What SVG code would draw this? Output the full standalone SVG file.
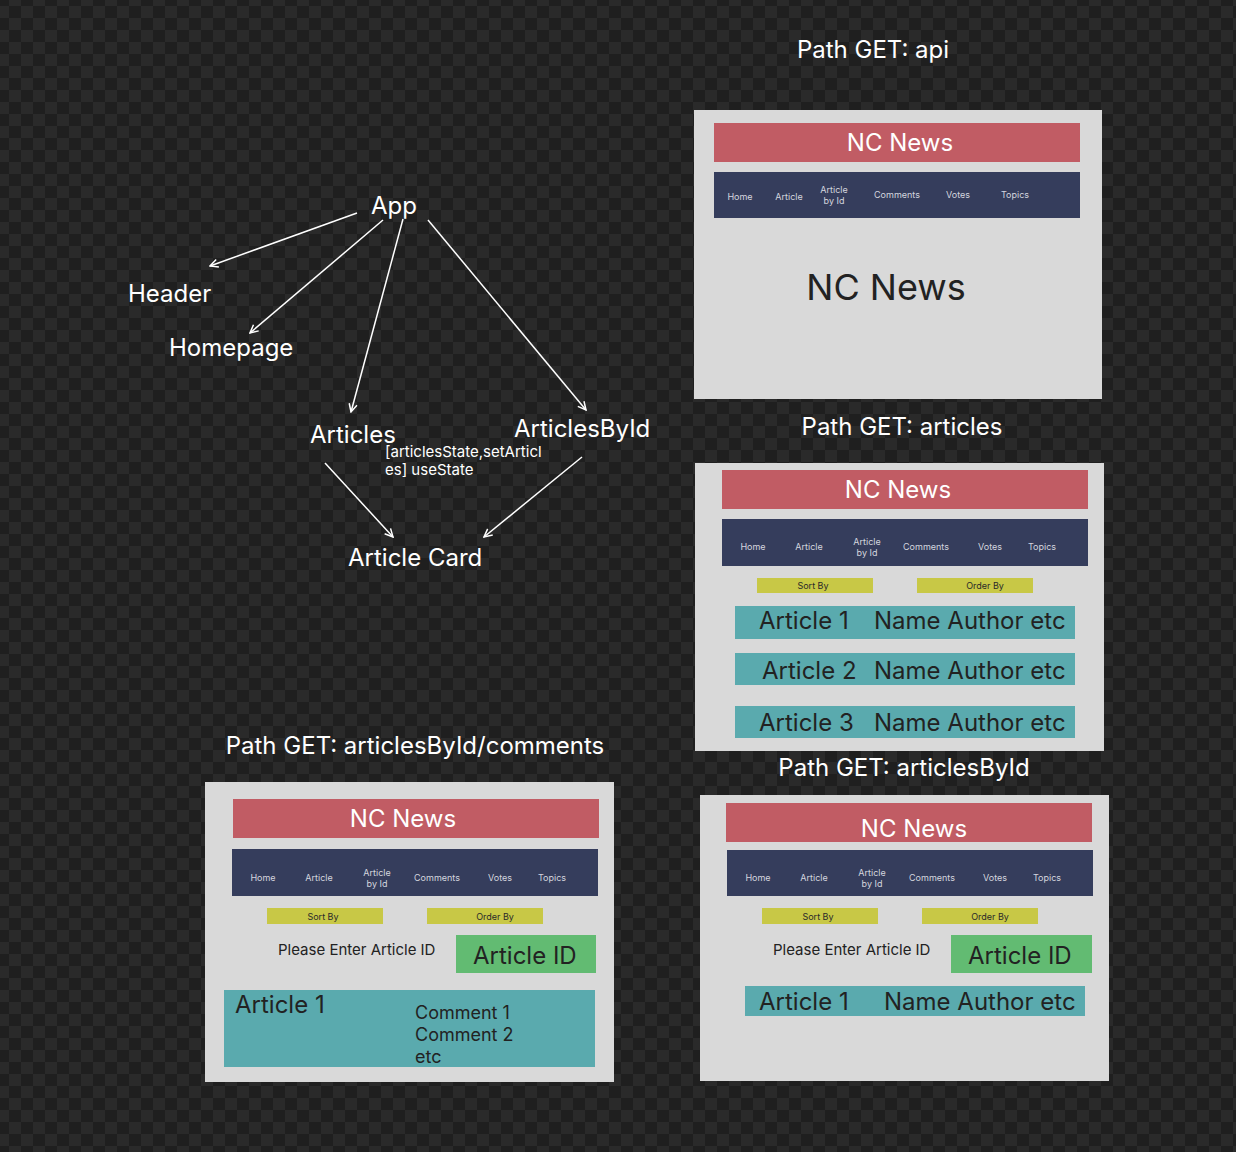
<svg xmlns="http://www.w3.org/2000/svg" width="1236" height="1152" viewBox="0 0 1236 1152">
<defs>
<pattern id="checker" x="9" y="6" width="24" height="24" patternUnits="userSpaceOnUse">
<rect width="24" height="24" fill="#1f1f1f"/>
<rect x="12" y="0" width="12" height="12" fill="#2a2a2a"/>
<rect x="0" y="12" width="12" height="12" fill="#2a2a2a"/>
</pattern>
<marker id="arr" viewBox="0 0 10 10" refX="9" refY="5" markerWidth="10" markerHeight="10" markerUnits="userSpaceOnUse" orient="auto">
<path d="M1,1 L9,5 L1,9" fill="none" stroke="#ffffff" stroke-width="1.5"/>
</marker>
</defs>
<style>
text{font-family:Inter,"Liberation Sans",sans-serif}
.title{font-size:24px;fill:#ffffff;text-anchor:middle}
.node{font-size:24px;fill:#ffffff}
.small{font-size:15px;fill:#ffffff}
.panel{fill:#d9d9d9}
.red{fill:#c15c64}
.nav{fill:#353d5c}
.navt{font-size:9px;fill:#d4d6df;text-anchor:middle}
.nc{font-size:24px;fill:#ffffff;text-anchor:middle}
.yel{fill:#c8c846}
.yelt{font-size:9px;fill:#2a2a2a;text-anchor:middle}
.teal{fill:#5aaaae}
.big{font-size:24px;fill:#222222}
.green{fill:#62bb72}
.please{font-size:15px;fill:#222222}
.cmt{font-size:18px;fill:#222222}
.conn{stroke:#ffffff;stroke-width:1.5;fill:none;marker-end:url(#arr)}
</style>
<rect width="1236" height="1152" fill="url(#checker)"/>

<g id="tree-app"><text class="node" x="371" y="214">App</text></g>
<g id="tree-header"><text class="node" x="128" y="302">Header</text></g>
<g id="tree-homepage"><text class="node" x="169" y="356">Homepage</text></g>
<g id="tree-articles"><text class="node" x="310" y="443">Articles</text>
<text class="small" x="385" y="457">[articlesState,setArticl</text>
<text class="small" x="385" y="475">es] useState</text></g>
<g id="tree-articlesbyid"><text class="node" x="514" y="437">ArticlesById</text></g>
<g id="tree-articlecard"><text class="node" x="348" y="566">Article Card</text></g>

<g id="connectors">
<line class="conn" x1="357" y1="213" x2="210" y2="266"/>
<line class="conn" x1="383" y1="220" x2="250" y2="333"/>
<line class="conn" x1="403" y1="219" x2="351" y2="412"/>
<line class="conn" x1="428" y1="220" x2="586" y2="410"/>
<line class="conn" x1="325" y1="463" x2="393" y2="537"/>
<line class="conn" x1="582" y1="457" x2="484" y2="537"/>
</g>

<g id="panel-api">
<text class="title" x="873" y="58">Path GET: api</text>
<rect class="panel" x="694" y="110" width="408" height="289"/>
<rect class="red" x="714" y="123" width="366" height="39"/>
<text class="nc" x="900" y="151">NC News</text>
<rect class="nav" x="714" y="172" width="366" height="46"/>
<text class="navt" x="740" y="200">Home</text>
<text class="navt" x="789" y="200">Article</text>
<text class="navt" x="834" y="193">Article</text>
<text class="navt" x="834" y="204">by Id</text>
<text class="navt" x="897" y="198">Comments</text>
<text class="navt" x="958" y="198">Votes</text>
<text class="navt" x="1015" y="198">Topics</text>
<text x="886" y="300" style="font-size:36px;fill:#222222;text-anchor:middle">NC News</text>
</g>

<g id="panel-articles">
<text class="title" x="902" y="435">Path GET: articles</text>
<rect class="panel" x="695" y="463" width="409" height="288"/>
<rect class="red" x="722" y="470" width="366" height="39"/>
<text class="nc" x="898" y="498">NC News</text>
<rect class="nav" x="722" y="519" width="366" height="47"/>
<text class="navt" x="753" y="550">Home</text>
<text class="navt" x="809" y="550">Article</text>
<text class="navt" x="867" y="545">Article</text>
<text class="navt" x="867" y="556">by Id</text>
<text class="navt" x="926" y="550">Comments</text>
<text class="navt" x="990" y="550">Votes</text>
<text class="navt" x="1042" y="550">Topics</text>
<rect class="yel" x="757" y="578" width="116" height="15"/>
<text class="yelt" x="813" y="589">Sort By</text>
<rect class="yel" x="917" y="578" width="116" height="15"/>
<text class="yelt" x="985" y="589">Order By</text>
<rect class="teal" x="735" y="606" width="340" height="33"/>
<text class="big" x="759" y="629">Article 1</text>
<text class="big" x="874" y="629">Name Author etc</text>
<rect class="teal" x="735" y="653" width="340" height="32"/>
<text class="big" x="762" y="679">Article 2</text>
<text class="big" x="874" y="679">Name Author etc</text>
<rect class="teal" x="735" y="706" width="340" height="32"/>
<text class="big" x="759" y="731">Article 3</text>
<text class="big" x="874" y="731">Name Author etc</text>
</g>

<g id="panel-articlesbyid">
<text class="title" x="904" y="776">Path GET: articlesById</text>
<rect class="panel" x="700" y="795" width="409" height="286"/>
<rect class="red" x="726" y="803" width="366" height="39"/>
<text class="nc" x="914" y="837">NC News</text>
<rect class="nav" x="727" y="850" width="366" height="46"/>
<text class="navt" x="758" y="881">Home</text>
<text class="navt" x="814" y="881">Article</text>
<text class="navt" x="872" y="876">Article</text>
<text class="navt" x="872" y="887">by Id</text>
<text class="navt" x="932" y="881">Comments</text>
<text class="navt" x="995" y="881">Votes</text>
<text class="navt" x="1047" y="881">Topics</text>
<rect class="yel" x="762" y="908" width="116" height="16"/>
<text class="yelt" x="818" y="920">Sort By</text>
<rect class="yel" x="922" y="908" width="116" height="16"/>
<text class="yelt" x="990" y="920">Order By</text>
<text class="please" x="773" y="955">Please Enter Article ID</text>
<rect class="green" x="951" y="935" width="141" height="38"/>
<text class="big" x="968" y="964">Article ID</text>
<rect class="teal" x="745" y="986" width="340" height="30"/>
<text class="big" x="759" y="1010">Article 1</text>
<text class="big" x="884" y="1010">Name Author etc</text>
</g>

<g id="panel-comments">
<text class="title" x="415" y="754">Path GET: articlesById/comments</text>
<rect class="panel" x="205" y="782" width="409" height="300"/>
<rect class="red" x="233" y="799" width="366" height="39"/>
<text class="nc" x="403" y="827">NC News</text>
<rect class="nav" x="232" y="849" width="366" height="47"/>
<text class="navt" x="263" y="881">Home</text>
<text class="navt" x="319" y="881">Article</text>
<text class="navt" x="377" y="876">Article</text>
<text class="navt" x="377" y="887">by Id</text>
<text class="navt" x="437" y="881">Comments</text>
<text class="navt" x="500" y="881">Votes</text>
<text class="navt" x="552" y="881">Topics</text>
<rect class="yel" x="267" y="908" width="116" height="16"/>
<text class="yelt" x="323" y="920">Sort By</text>
<rect class="yel" x="427" y="908" width="116" height="16"/>
<text class="yelt" x="495" y="920">Order By</text>
<text class="please" x="278" y="955">Please Enter Article ID</text>
<rect class="green" x="456" y="935" width="140" height="38"/>
<text class="big" x="473" y="964">Article ID</text>
<rect class="teal" x="224" y="990" width="371" height="77"/>
<text class="big" x="235" y="1013">Article 1</text>
<text class="cmt" x="415" y="1019">Comment 1</text>
<text class="cmt" x="415" y="1041">Comment 2</text>
<text class="cmt" x="415" y="1063">etc</text>
</g>
</svg>
